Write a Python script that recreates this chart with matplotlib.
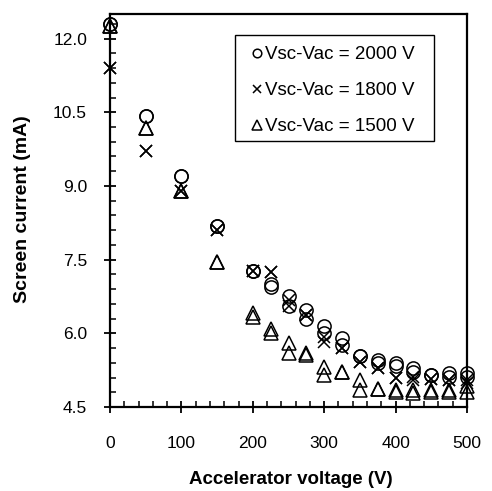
import matplotlib
matplotlib.use("Agg")
import matplotlib.pyplot as plt
from matplotlib.ticker import MultipleLocator, FormatStrFormatter
from matplotlib.patches import Rectangle

plt.rcParams['font.family'] = ['Liberation Sans', 'DejaVu Sans']

voltage = [0, 50, 100, 150, 200, 225, 250, 275, 300, 325, 350, 375, 400, 425, 450, 475, 500]

# two measurement runs per series
i2000_a = [12.29, 10.42, 9.21, 8.18, 7.27, 7.00, 6.76, 6.48, 6.14, 5.90, 5.53, 5.46, 5.39, 5.29, 5.15, 5.19, 5.19]
i2000_b = [12.29, 10.42, 9.21, 8.18, 7.27, 6.94, 6.56, 6.29, 6.00, 5.76, 5.53, 5.39, 5.34, 5.22, 5.15, 5.12, 5.12]
i1800_a = [11.40, 9.72, 8.90, 8.11, 7.27, 7.25, 6.68, 6.38, 5.93, 5.70, 5.42, 5.29, 5.09, 5.12, 5.08, 5.05, 5.05]
i1800_b = [11.40, 9.72, 8.90, 8.11, 7.27, 7.25, 6.55, 6.38, 5.83, 5.70, 5.42, 5.29, 5.09, 5.05, 5.08, 5.05, 4.98]
i1500_a = [12.25, 10.18, 8.89, 7.46, 6.42, 6.08, 5.80, 5.61, 5.32, 5.22, 5.05, 4.86, 4.85, 4.85, 4.85, 4.85, 4.92]
i1500_b = [12.25, 10.18, 8.89, 7.46, 6.33, 6.01, 5.59, 5.56, 5.15, 5.22, 4.85, 4.86, 4.81, 4.78, 4.80, 4.80, 4.81]

labels = ['Vsc-Vac = 2000 V', 'Vsc-Vac = 1800 V', 'Vsc-Vac = 1500 V']

fig = plt.figure(figsize=(4.92, 4.91), dpi=100)
ax = fig.add_axes([0.2236, 0.171, 0.7256, 0.8005])

ms = dict(linestyle='none', color='black', clip_on=False)
ax.plot(voltage, i2000_a, marker='o', markersize=9.5, markerfacecolor='none', markeredgewidth=1.1, label=labels[0], **ms)
ax.plot(voltage, i2000_b, marker='o', markersize=9.5, markerfacecolor='none', markeredgewidth=1.1, **ms)
ax.plot(voltage, i1800_a, marker='x', markersize=8, markeredgewidth=1.1, label=labels[1], **ms)
ax.plot(voltage, i1800_b, marker='x', markersize=8, markeredgewidth=1.1, **ms)
ax.plot(voltage, i1500_a, marker='^', markersize=10.5, markerfacecolor='none', markeredgewidth=1.1, label=labels[2], **ms)
ax.plot(voltage, i1500_b, marker='^', markersize=10.5, markerfacecolor='none', markeredgewidth=1.1, **ms)

ax.set_xlim(0, 500)
ax.set_ylim(4.5, 12.5)
ax.xaxis.set_major_locator(MultipleLocator(100))
ax.xaxis.set_minor_locator(MultipleLocator(20))
ax.yaxis.set_major_locator(MultipleLocator(1.5))
ax.yaxis.set_minor_locator(MultipleLocator(0.3))
ax.yaxis.set_major_formatter(FormatStrFormatter('%.1f'))

for s in ax.spines.values():
    s.set_linewidth(1.6)
    s.set_color('black')

ax.tick_params(which='major', direction='inout', length=9, width=1.3, labelsize=12.5, colors='black')
ax.tick_params(which='minor', direction='in', length=4, width=1.1)
ax.tick_params(axis='x', which='major', pad=16)
ax.tick_params(axis='y', which='major', pad=12)

ax.set_xlabel('Accelerator voltage (V)', fontsize=13.5, fontweight='bold', va='center')
ax.set_ylabel('Screen current (mA)', fontsize=14, fontweight='bold', va='center')
ax.xaxis.set_label_coords(0.5056, -0.184)
ax.yaxis.set_label_coords(-0.244, 0.504)

# legend box frame
ax.add_patch(Rectangle((0.350, 0.678), 0.9076 - 0.350, 0.9466 - 0.678, transform=ax.transAxes,
                       facecolor='white', edgecolor='black', linewidth=1.0, zorder=4))
leg = ax.legend(loc='upper left', bbox_to_anchor=(0.401, 0.918), borderaxespad=0,
                fontsize=13.5, frameon=False,
                handlelength=0.4, handletextpad=0.25, labelspacing=1.0,
                borderpad=0.0, markerscale=0.65)
leg.set_zorder(5)

fig.savefig('out.png', dpi=100)
